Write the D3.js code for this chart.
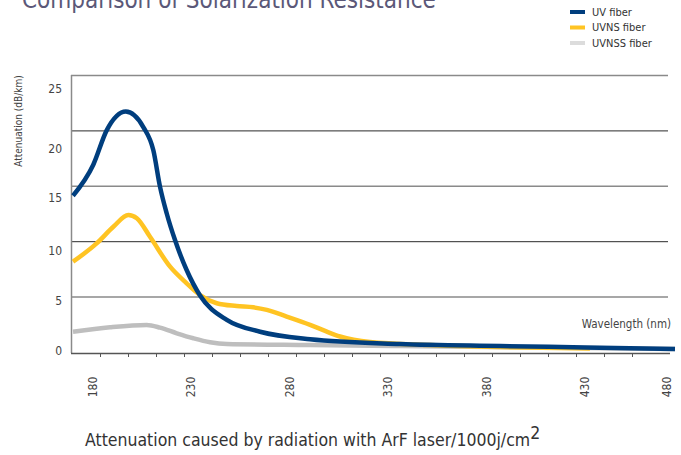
<!DOCTYPE html>
<html>
<head>
<meta charset="utf-8">
<script src="https://cdn.jsdelivr.net/npm/d3@7"></script>
<style>
    body { margin: 0; background: #fff; }
    svg { display: block; }
    text { font-family: "Liberation Sans Narrow", "DejaVu Sans Condensed", "Liberation Sans", sans-serif; }
</style>
</head>
<body>
<div id="graphic"></div>
<script>
// Dati (nm, dB/km)
var uvNm = [170, 180.3, 187.1, 196.8, 205.7, 210.8, 214.2, 217.6, 221.8, 227.7, 234.5, 248.1, 265, 290.4, 336, 387, 430, 485];
var uvVal = [14.1, 16.9, 20.0, 21.7, 20.3, 18.2, 14.9, 12.5, 10.1, 7.4, 5.1, 2.9, 1.83, 1.15, 0.72, 0.54, 0.41, 0.27];

var uvnsNm = [170, 182, 190.5, 198.1, 202.4, 209.1, 219.3, 227.7, 234.5, 243, 253.1, 261.6, 268.4, 278.5, 290.4, 298, 305.6, 320.8, 351.3, 386.9, 433];
var uvnsVal = [8.15, 9.8, 11.3, 12.36, 12.07, 10.4, 7.7, 6.2, 5.14, 4.4, 4.15, 4.03, 3.8, 3.2, 2.45, 1.9, 1.4, 0.9, 0.63, 0.45, 0.32];

var uvnssNm = [170, 188.8, 207.4, 214.2, 222.7, 231.1, 239.6, 248.1, 290.4, 336, 430, 485];
var uvnssVal = [1.83, 2.23, 2.44, 2.2, 1.69, 1.24, 0.88, 0.72, 0.63, 0.54, 0.36, 0.27];

var yTicks = [0, 5, 10, 15, 20, 25];
var xLabels = [180, 230, 280, 330, 380, 430, 480];
var tickCount = 20;

var seriesNames = ["UV fiber", "UVNS fiber", "UVNSS fiber"];
var seriesColors = ["#003e7e", "#ffc423", "#bebebe"];
var legendColors = ["#003e7e", "#ffc423", "#dcdcdc"];

var w = 681, h = 455;
var plotLeft = 71, plotRight = 668, plotTop = 75, plotBottom = 352;

var svg = d3.select('#graphic')
    .append('svg')
    .attr('width', w)
    .attr('height', h);

// Scale
var xScale = d3.scaleLinear()
    .domain([170, 430, 485])
    .range([73, 585, 675]);
var yScale = d3.scaleLinear()
    .domain([0, 25])
    .range([plotBottom, plotTop]);
// le etichette dell'asse y non sono allineate alla griglia nell'originale
var yLabelScale = d3.scaleLinear()
    .domain([0, 5, 10, 15, 20, 25])
    .range([351, 301, 251, 198, 149, 89]);
// tacche dell'asse x (equidistanti, indipendenti dalle etichette)
var tickScale = d3.scaleLinear()
    .domain([0, tickCount - 1])
    .range([100, 632]);

// Titolo (tagliato in alto)
svg.append('text')
    .attr('x', 22)
    .attr('y', 8)
    .attr('font-size', '24px')
    .attr('fill', '#5b5878')
    .text('Comparison of Solarization Resistance');

// Griglia
svg.append('g')
    .selectAll('line')
    .data(yTicks.slice(1))
    .enter()
    .append('line')
    .attr('x1', plotLeft)
    .attr('x2', plotRight)
    .attr('y1', function (d) { return yScale(d) + 0.5; })
    .attr('y2', function (d) { return yScale(d) + 0.5; })
    .attr('stroke', function (d) { return (d === 20 || d === 10) ? '#2a2a2a' : '#8a8a8a'; })
    .attr('stroke-width', function (d) { return (d === 20 || d === 10) ? 1 : 1.5; });

// Asse y (linea)
svg.append('line')
    .attr('x1', plotLeft + 0.5).attr('x2', plotLeft + 0.5)
    .attr('y1', plotTop).attr('y2', plotBottom + 1)
    .attr('stroke', '#8a8a8a')
    .attr('stroke-width', 1.5);

// Linee
var line = d3.line()
    .x(function (d) { return xScale(d[0]); })
    .y(function (d) { return yScale(d[1]); })
    .curve(d3.curveMonotoneX);

var series = [
    d3.zip(uvnssNm, uvnssVal),
    d3.zip(uvnsNm, uvnsVal),
    d3.zip(uvNm, uvVal)
];
var order = [2, 1, 0];

svg.append('g')
    .selectAll('path')
    .data(series)
    .enter()
    .append('path')
    .attr('d', line)
    .attr('fill', 'none')
    .attr('stroke', function (d, i) { return seriesColors[order[i]]; })
    .attr('stroke-width', 4.5)
    .attr('stroke-linecap', 'butt');

// Asse x
var xAxis = d3.axisBottom(tickScale)
    .tickValues(d3.range(tickCount))
    .tickSize(4)
    .tickFormat('');
var gx = svg.append('g')
    .attr('transform', 'translate(0,' + (plotBottom + 1) + ')')
    .call(xAxis);
gx.select('.domain')
    .attr('d', 'M' + plotLeft + ',0.5H670')
    .attr('stroke', '#555')
    .attr('stroke-width', 1.5);
gx.selectAll('.tick line').attr('stroke', '#555');

// Etichette asse y
svg.append('g')
    .selectAll('text')
    .data(yTicks)
    .enter()
    .append('text')
    .attr('x', 62)
    .attr('y', function (d) { return yLabelScale(d); })
    .attr('dy', '0.35em')
    .attr('text-anchor', 'end')
    .attr('font-size', '12px')
    .attr('fill', '#444')
    .text(function (d) { return d; });

// Etichette asse x (ruotate)
svg.append('g')
    .selectAll('text')
    .data(xLabels)
    .enter()
    .append('text')
    .attr('transform', function (d) { return 'translate(' + xScale(d) + ',387) rotate(-90)'; })
    .attr('dy', '0.35em')
    .attr('text-anchor', 'middle')
    .attr('font-size', '12px')
    .attr('fill', '#444')
    .text(function (d) { return d; });

// Titoli assi
svg.append('text')
    .attr('transform', 'translate(18,121) rotate(-90)')
    .attr('dy', '0.35em')
    .attr('text-anchor', 'middle')
    .attr('font-size', '10px')
    .attr('fill', '#444')
    .text('Attenuation (dB/km)');

svg.append('text')
    .attr('x', 671)
    .attr('y', 328)
    .attr('text-anchor', 'end')
    .attr('font-size', '11.5px')
    .attr('fill', '#444')
    .text('Wavelength (nm)');

// Legenda
var legend = svg.append('g')
    .selectAll('g')
    .data(seriesNames)
    .enter()
    .append('g')
    .attr('transform', function (d, i) { return 'translate(570,' + (12 + i * 15.5) + ')'; });
legend.append('rect')
    .attr('x', 0)
    .attr('y', -2)
    .attr('width', 15)
    .attr('height', 4)
    .attr('fill', function (d, i) { return legendColors[i]; });
legend.append('text')
    .attr('x', 22)
    .attr('dy', '0.35em')
    .attr('font-size', '11px')
    .attr('fill', '#333')
    .text(function (d) { return d; });

// Didascalia
var caption = svg.append('text')
    .attr('x', 85)
    .attr('y', 446)
    .attr('font-size', '17.5px')
    .attr('fill', '#333');
caption.append('tspan').text('Attenuation caused by radiation with ArF laser/1000j/cm');
caption.append('tspan').attr('dy', -7).text('2');
</script>
</body>
</html>
